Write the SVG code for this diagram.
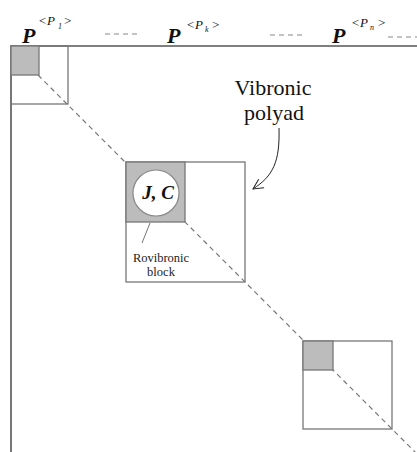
<svg xmlns="http://www.w3.org/2000/svg" width="417" height="452" viewBox="0 0 417 452">
<style>
.frame{fill:none;stroke:#555;stroke-width:1.6}
.blk{fill:none;stroke:#777;stroke-width:1.3}
.grey{fill:#bcbcbc;stroke:#777;stroke-width:1.3}
.diag{fill:none;stroke:#777;stroke-width:1.2;stroke-dasharray:5 4}
.dots{fill:none;stroke:#888;stroke-width:1.2;stroke-dasharray:5 4}
.big{font-family:"Liberation Serif",serif;font-weight:bold;font-style:italic;font-size:22px;fill:#111}
.sup{font-family:"Liberation Serif",serif;font-size:13px;fill:#111}
.supi{font-family:"Liberation Serif",serif;font-style:italic;font-size:13px;fill:#111}
.sub{font-family:"Liberation Serif",serif;font-style:italic;font-size:8px;fill:#111}
.lbl{font-family:"Liberation Serif",serif;font-size:22px;fill:#111;text-anchor:middle}
.small{font-family:"Liberation Serif",serif;font-size:12.5px;fill:#222;text-anchor:middle}
</style>
<defs>
<marker id="arr" markerWidth="12" markerHeight="12" refX="11" refY="6" orient="auto" markerUnits="userSpaceOnUse">
<path d="M1,1 L11,6 L1,11" fill="none" stroke="#222" stroke-width="1"/>
</marker>
</defs>
<g id="connectors">
<path class="diag" d="M38,75 L417,454"/>
<path d="M279,128 C280,162 273,176 253,189" fill="none" stroke="#222" stroke-width="1" marker-end="url(#arr)"/>
<path d="M150,223 L142,243" fill="none" stroke="#777" stroke-width="1"/>
</g>
<g id="frame">
<path class="frame" d="M11,452 L11,46 L417,46"/>
</g>
<g id="header">
<text class="big" x="22" y="43">P</text>
<text class="sup" x="39" y="25">&lt;</text>
<text class="supi" x="47" y="25">P</text>
<text class="sub" x="58" y="29">1</text>
<text class="sup" x="64" y="25">&gt;</text>
<path class="dots" d="M105,34 L137,34"/>
<text class="big" x="167" y="43">P</text>
<text class="sup" x="187" y="29">&lt;</text>
<text class="supi" x="195" y="29">P</text>
<text class="sub" x="205" y="32">k</text>
<text class="sup" x="212" y="29">&gt;</text>
<path class="dots" d="M270,35 L303,35"/>
<text class="big" x="332" y="43">P</text>
<text class="sup" x="352" y="27">&lt;</text>
<text class="supi" x="360" y="27">P</text>
<text class="sub" x="370" y="30">n</text>
<text class="sup" x="378" y="27">&gt;</text>
<path class="dots" d="M388,37 L417,37"/>
</g>
<g id="block1">
<rect class="blk" x="11" y="46" width="57" height="58"/>
<rect class="grey" x="11" y="46" width="28" height="29"/>
</g>
<g id="block2">
<rect class="blk" x="126" y="162" width="119" height="120"/>
<rect class="grey" x="126" y="162" width="59" height="60"/>
<circle cx="156" cy="193" r="23" fill="#fff" stroke="#888" stroke-width="1.2"/>
<text class="big" x="158" y="199" style="font-size:19px" text-anchor="middle">J, C</text>
<text class="small" x="161" y="262">Rovibronic</text>
<text class="small" x="161" y="275.5">block</text>
</g>
<g id="block3">
<rect class="blk" x="303" y="341" width="89" height="88"/>
<rect class="grey" x="303" y="341" width="30" height="29"/>
</g>
<g id="label">
<text class="lbl" x="273" y="95">Vibronic</text>
<text class="lbl" x="274" y="120">polyad</text>
</g>
</svg>
